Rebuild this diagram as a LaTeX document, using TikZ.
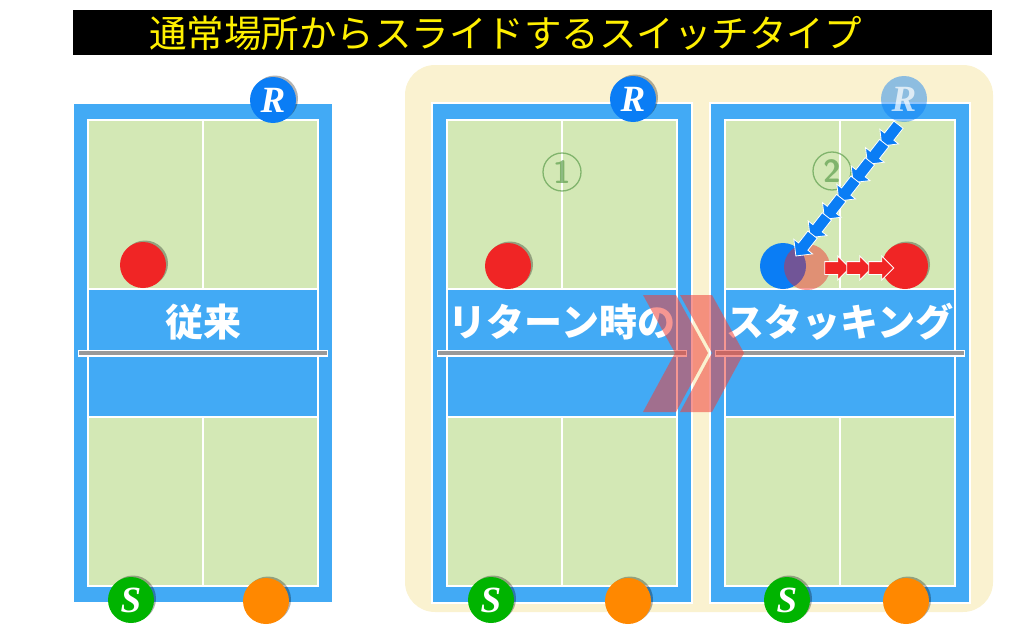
\documentclass[tikz,border=0pt]{standalone}
\usepackage{fontspec}
\newfontfamily\jpfont{Noto Sans CJK JP}
\newfontfamily\markfont{Liberation Serif}
\usetikzlibrary{shapes.arrows,calc}
\definecolor{courtblue}{HTML}{42AAF5}
\definecolor{courtgreen}{HTML}{D3E8B5}
\definecolor{panelcream}{HTML}{FAF2D0}
\definecolor{ballred}{HTML}{F02525}
\definecolor{ballorange}{HTML}{FF8800}
\definecolor{markblue}{HTML}{0A7DF5}
\definecolor{markgreen}{HTML}{00B400}
\definecolor{chevred}{HTML}{F0403A}
\definecolor{numgreen}{HTML}{5E9E4E}
\definecolor{titleyellow}{HTML}{FFF000}
\definecolor{netgray}{HTML}{999999}

\begin{document}
\begin{tikzpicture}[x=1pt,y=1pt,yscale=-1,
  courtouter/.style={fill=courtblue,draw=white,line width=1.5},
  courtinner/.style={fill=courtgreen,draw=white,line width=2},
  kitchen/.style={fill=courtblue,draw=white,line width=2},
  courtlabel/.style={text=white,font=\jpfont\bfseries\fontsize{38}{40}\selectfont,inner sep=0},
  ball/.style={circle,minimum size=46,inner sep=0},
  rim/.style={preaction={fill=black,fill opacity=.3,transform canvas={xshift=2pt,yshift=1.5pt}}},
  marker/.style={ball,rim,text=white,font=\markfont\bfseries\itshape\fontsize{37}{37}\selectfont},
  bluearrow/.style={single arrow,fill=markblue,draw=white,line width=0.8,minimum height=27,inner xsep=0,inner ysep=5.5,single arrow head extend=6,rotate=232},
  redarrow/.style={single arrow,fill=ballred,draw=white,line width=0.8,minimum height=25,inner xsep=0,inner ysep=6,single arrow head extend=5.5},
  numcirc/.style={circle,draw=numgreen,line width=1.3,minimum size=38,inner sep=0,text=numgreen,opacity=.7,font=\sffamily\bfseries\fontsize{32}{32}\selectfont},
  chevron/.style={fill=chevred,opacity=.55}]
  \useasboundingbox (0,0) rectangle (1024,642);

  %Title bar
  \fill[black] (73,10) rectangle (992,55);
  \node[anchor=west,inner sep=0,text=titleyellow,font=\jpfont\fontsize{37.5}{40}\selectfont] (title) at (149,33) {通常場所からスライドするスイッチタイプ};

  %Shape: cream panel behind right courts
  \fill[panelcream,rounded corners=30] (405,65) rectangle (993,612);

  %Courts
  \foreach \cx in {73,432,710}{
    \draw[courtouter] (\cx,103) rectangle ++(260,500);
    \draw[courtinner] (\cx+15,120) rectangle (\cx+245,586);
    \draw[white,line width=2] (\cx+130,120) -- (\cx+130,289);
    \draw[white,line width=2] (\cx+130,417) -- (\cx+130,586);
    \draw[kitchen] (\cx+15,289) rectangle (\cx+245,417);
    % net
    \draw[white,line width=7] (\cx+5,353) -- (\cx+255,353);
    \draw[netgray,line width=4] (\cx+6,353) -- (\cx+254,353);
  }

  % Text Node
  \node[courtlabel] (lab1) at (203,322) {従来};
  \node[courtlabel] (lab2) at (562,322) {リターン時の};
  \node[courtlabel] (lab3) at (840,322) {スタッキング};

  %Circled numbers
  \node[numcirc] (num1) at (562,172) {1};
  \node[numcirc] (num2) at (832,171) {2};

  %Receivers
  \node[marker,fill=markblue] (R1) at (273,100) {R};
  \node[marker,fill=markblue] (R2) at (633,99) {R};
  \node[ball,fill=markblue,opacity=.45,text=white,text opacity=.7,font=\markfont\bfseries\itshape\fontsize{37}{37}\selectfont] (R3) at (904,99) {R};

  %Servers
  \node[marker,fill=markgreen] (S1) at (131,600) {S};
  \node[marker,fill=markgreen] (S2) at (491,600) {S};
  \node[marker,fill=markgreen] (S3) at (787,600) {S};

  %Partners of the server
  \node[ball,rim,fill=ballorange] (O1) at (266,601) {};
  \node[ball,rim,fill=ballorange] (O2) at (628,601) {};
  \node[ball,rim,fill=ballorange] (O3) at (906,601) {};

  %Partners of the receiver
  \node[ball,rim,fill=ballred] (P1) at (143,265) {};
  \node[ball,rim,fill=ballred] (P2) at (508,266) {};
  \node[ball,fill=markblue] (B3) at (783,266) {};
  \node[ball,fill=ballred,opacity=.45] (G3) at (807,267) {};
  \node[ball,rim,fill=ballred] (P3) at (905,266) {};

  %Receiver runs in
  \foreach \i in {0,...,6}
    \node[bluearrow] (run\i) at ($(892,133)!\i/6!(806,243)$) {};

  %Partner slides over
  \foreach \i/\px in {1/834,2/856,3/878}
    \node[redarrow] (slide\i) at (\px,268) {};

  %Chevrons
  \fill[chevron] (643,295) -- (676,295) -- (708,353) -- (676,412) -- (643,412) -- (675,353) -- cycle;
  \fill[chevron] (680,295) -- (712,295) -- (744,353) -- (712,412) -- (680,412) -- (712,353) -- cycle;
\end{tikzpicture}
\end{document}
